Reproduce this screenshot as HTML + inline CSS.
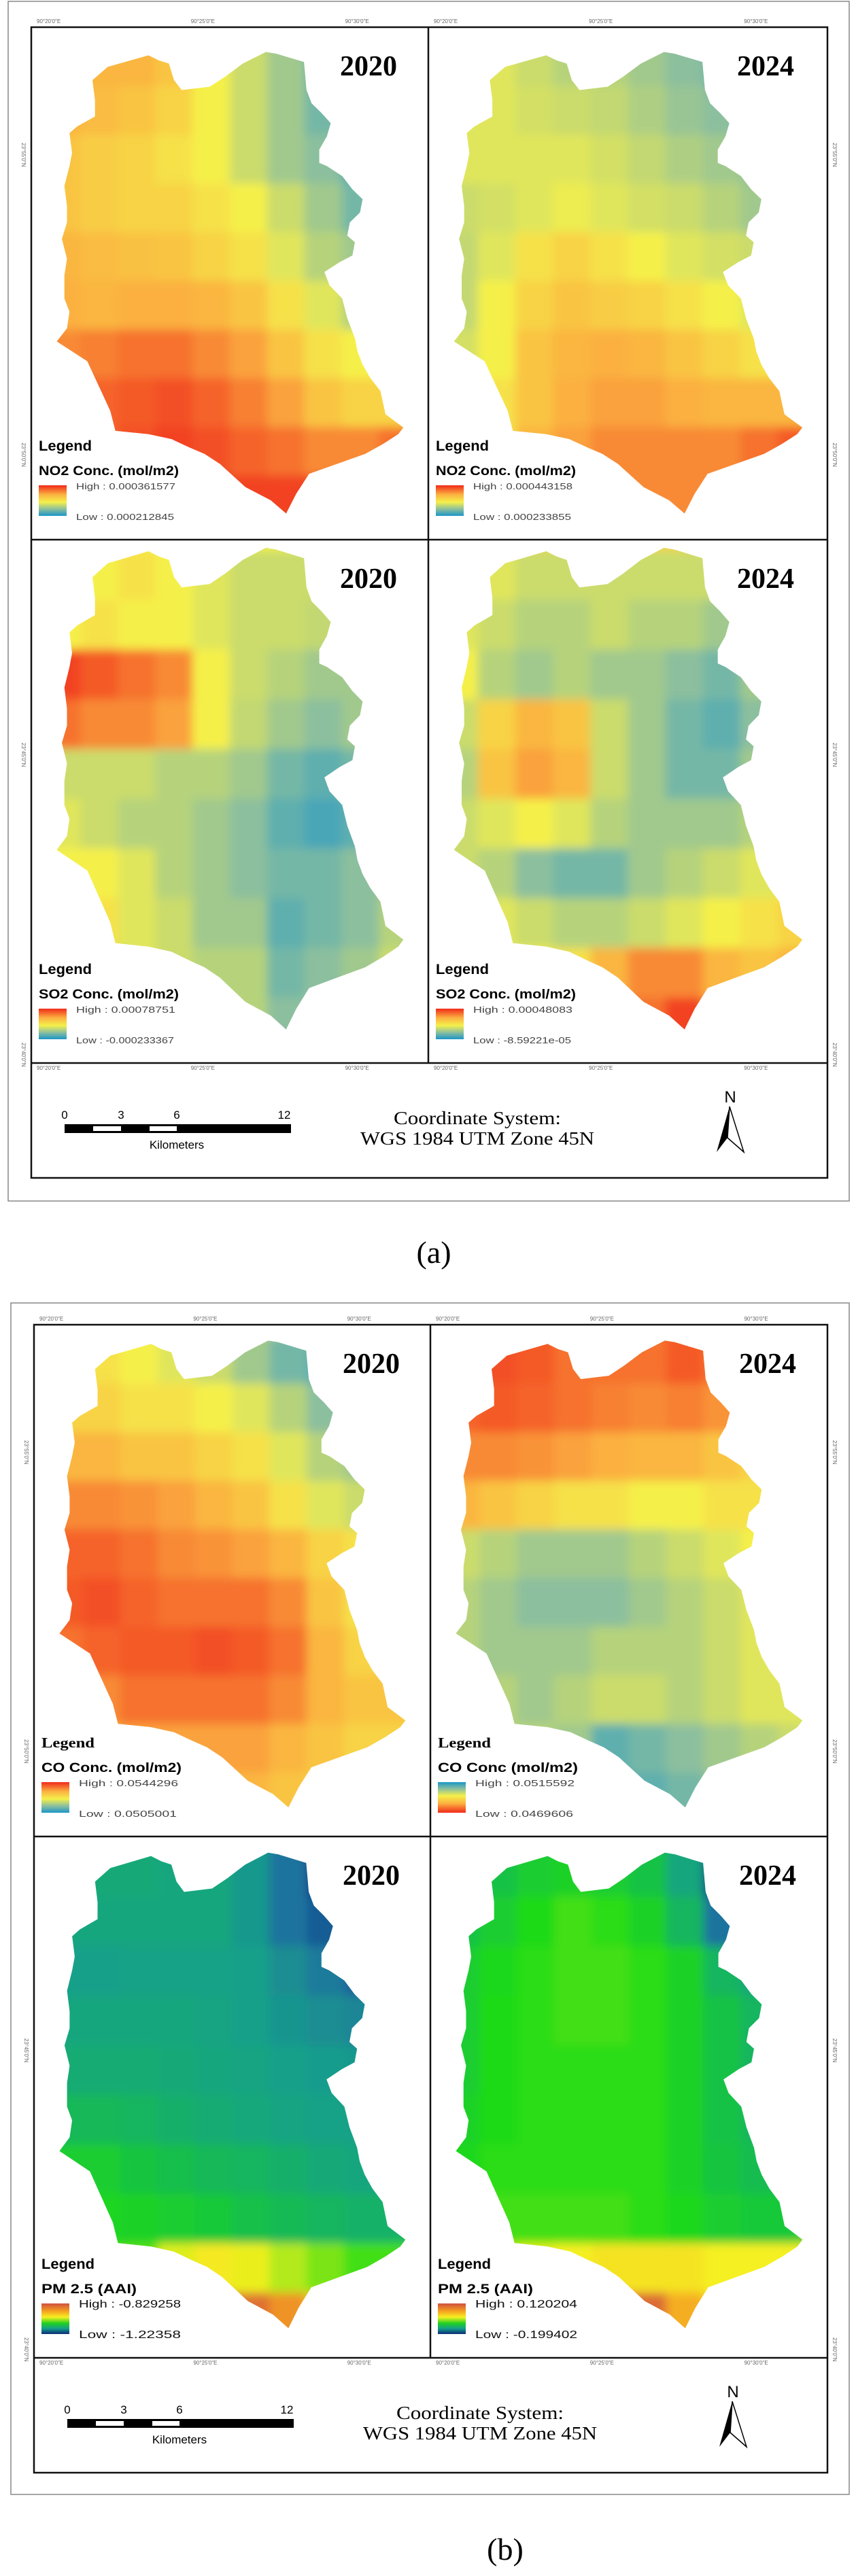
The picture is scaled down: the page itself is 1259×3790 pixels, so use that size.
<!DOCTYPE html>
<html><head><meta charset="utf-8"><style>
html,body{margin:0;padding:0;background:#fff;}
svg{display:block;}
</style></head>
<body>
<svg id="fig" width="1259" height="3790" viewBox="0 0 1259 3790" xmlns="http://www.w3.org/2000/svg">
<defs>
<filter id="soft" x="-5%" y="-5%" width="110%" height="110%"><feGaussianBlur stdDeviation="7"/></filter>
<linearGradient id="rampRYB" x1="0" y1="0" x2="0" y2="1"><stop offset="0" stop-color="#f02a1a"/><stop offset="0.3" stop-color="#fbb040"/><stop offset="0.55" stop-color="#f5f04a"/><stop offset="0.78" stop-color="#8cbf9e"/><stop offset="1" stop-color="#1a96c8"/></linearGradient>
<linearGradient id="rampBYR" x1="0" y1="1" x2="0" y2="0"><stop offset="0" stop-color="#f02a1a"/><stop offset="0.3" stop-color="#fbb040"/><stop offset="0.55" stop-color="#f5f04a"/><stop offset="0.78" stop-color="#8cbf9e"/><stop offset="1" stop-color="#1a96c8"/></linearGradient>
<linearGradient id="rampPM" x1="0" y1="0" x2="0" y2="1"><stop offset="0" stop-color="#d05040"/><stop offset="0.25" stop-color="#f5a020"/><stop offset="0.45" stop-color="#f5f020"/><stop offset="0.65" stop-color="#20d020"/><stop offset="0.82" stop-color="#14a08a"/><stop offset="1" stop-color="#0a2a78"/></linearGradient>
</defs>
<g id="layer"></g>
</svg>
<script>
// ---- data grids (10 columns x 10 rows, 0 = low, 1 = high) ----
const no2_2020 = [
[.7,.7,.7,.65,.5,.4,.3,.2,.1,.1],[.7,.68,.65,.6,.5,.4,.3,.2,.1,.1],[.65,.62,.6,.55,.5,.4,.3,.25,.15,.15],
[.65,.62,.6,.6,.55,.5,.4,.3,.2,.2],[.7,.68,.66,.65,.6,.55,.45,.35,.3,.3],[.72,.7,.72,.72,.7,.65,.55,.45,.35,.35],
[.8,.82,.85,.85,.8,.75,.65,.55,.5,.5],[.85,.88,.9,.92,.88,.82,.75,.65,.6,.6],[.85,.88,.92,.95,.92,.88,.85,.8,.8,.85],
[.9,.9,.95,.95,.95,.95,.95,.95,.95,.95]];
const no2_2024 = [
[.45,.45,.4,.35,.35,.3,.25,.2,.15,.15],[.45,.45,.42,.4,.38,.33,.28,.25,.2,.2],[.45,.45,.45,.45,.42,.38,.33,.3,.28,.28],
[.4,.42,.45,.48,.45,.42,.4,.35,.3,.3],[.38,.45,.55,.6,.55,.5,.45,.42,.4,.4],[.38,.5,.6,.65,.62,.6,.55,.5,.45,.45],
[.42,.5,.65,.7,.72,.7,.65,.6,.55,.55],[.45,.55,.65,.72,.75,.75,.72,.7,.7,.7],[.5,.55,.7,.75,.8,.8,.8,.8,.85,.9],
[.6,.6,.75,.8,.8,.8,.8,.8,.85,.9]];
const so2_2020 = [
[.5,.5,.55,.5,.45,.4,.4,.4,.4,.4],[.5,.55,.5,.5,.45,.4,.4,.38,.35,.35],[.95,.9,.85,.8,.5,.4,.35,.3,.3,.3],
[.85,.8,.8,.75,.5,.38,.3,.25,.3,.3],[.4,.4,.4,.35,.35,.3,.2,.15,.2,.2],[.45,.4,.35,.35,.3,.25,.15,.1,.15,.15],
[.5,.5,.45,.35,.3,.25,.2,.2,.25,.3],[.5,.55,.45,.4,.3,.3,.15,.2,.25,.35],[.5,.55,.45,.4,.35,.35,.2,.25,.3,.4],
[.5,.5,.45,.45,.4,.35,.25,.3,.35,.4]];
const so2_2024 = [
[.6,.45,.4,.4,.4,.4,.4,.4,.4,.4],[.45,.4,.35,.35,.4,.35,.35,.3,.35,.4],[.5,.35,.3,.35,.3,.3,.25,.2,.3,.35],
[.4,.6,.7,.65,.4,.3,.2,.15,.25,.3],[.35,.65,.75,.7,.4,.3,.2,.2,.3,.35],[.4,.45,.5,.45,.35,.3,.3,.3,.35,.4],
[.4,.35,.25,.2,.2,.3,.35,.4,.45,.5],[.45,.45,.4,.35,.35,.4,.45,.5,.55,.6],[.5,.5,.5,.55,.7,.8,.8,.7,.65,.7],
[.5,.5,.55,.6,.75,.85,.95,.8,.7,.7]];
const co_2020 = [
[.55,.55,.5,.45,.4,.3,.2,.15,.15,.15],[.6,.6,.55,.55,.5,.45,.35,.25,.2,.2],[.7,.7,.65,.65,.6,.55,.45,.35,.3,.3],
[.8,.8,.78,.75,.7,.65,.55,.45,.4,.4],[.88,.88,.85,.8,.78,.75,.7,.6,.55,.55],[.9,.92,.88,.85,.85,.85,.8,.65,.55,.55],
[.85,.88,.9,.9,.92,.9,.85,.7,.6,.6],[.75,.8,.85,.85,.85,.85,.8,.7,.65,.65],[.7,.72,.75,.75,.75,.75,.7,.65,.6,.6],
[.7,.7,.7,.7,.7,.7,.65,.6,.55,.55]];
const co_2024 = [
[.9,.92,.9,.85,.85,.85,.9,.85,.8,.8],[.88,.9,.88,.85,.82,.8,.82,.78,.7,.7],[.8,.8,.78,.75,.72,.7,.7,.65,.6,.6],
[.7,.65,.6,.55,.55,.5,.5,.55,.55,.5],[.4,.35,.3,.3,.3,.35,.4,.45,.5,.45],[.35,.3,.25,.25,.25,.3,.35,.4,.45,.45],
[.35,.3,.3,.3,.35,.35,.35,.4,.45,.45],[.4,.35,.3,.35,.4,.4,.35,.4,.45,.45],[.4,.35,.35,.3,.15,.2,.25,.3,.35,.4],
[.4,.35,.35,.25,.1,.15,.2,.25,.3,.4]];
const pm_2020 = [
[.32,.32,.32,.3,.3,.25,.15,.05,.05,.05],[.3,.3,.3,.3,.3,.25,.15,.1,.05,.05],[.27,.27,.28,.28,.28,.27,.22,.17,.12,.12],
[.3,.3,.3,.3,.29,.27,.24,.22,.2,.2],[.33,.33,.33,.32,.3,.29,.27,.26,.25,.25],[.4,.4,.38,.35,.33,.31,.29,.28,.28,.28],
[.5,.5,.46,.43,.4,.38,.35,.32,.3,.3],[.55,.54,.52,.5,.48,.44,.41,.38,.36,.36],[.6,.6,.62,.74,.77,.75,.7,.65,.6,.6],
[.7,.7,.75,.82,.9,.95,.9,.8,.75,.75]];
const pm_2024 = [
[.4,.45,.5,.52,.5,.45,.3,.05,.05,.1],[.45,.5,.56,.6,.58,.52,.38,.15,.15,.2],[.5,.55,.58,.6,.6,.58,.52,.38,.32,.32],
[.5,.56,.58,.6,.6,.58,.52,.45,.38,.38],[.5,.56,.58,.58,.58,.58,.52,.45,.38,.38],[.52,.56,.58,.58,.58,.58,.52,.45,.4,.4],
[.55,.58,.58,.58,.58,.58,.52,.46,.42,.42],[.6,.6,.6,.6,.6,.58,.55,.5,.48,.48],[.68,.7,.75,.76,.78,.78,.78,.76,.76,.76],
[.72,.74,.8,.86,.92,.96,.86,.8,.78,.78]];

const panelTitles = ["NO2 Conc. (mol/m2)","NO2 Conc. (mol/m2)","SO2 Conc. (mol/m2)","SO2 Conc. (mol/m2)","CO Conc. (mol/m2)","CO Conc (mol/m2)","PM 2.5 (AAI)","PM 2.5 (AAI)"];
const panelYears = ["2020","2024","2020","2024","2020","2024","2020","2024"];
const highLabels = ["High : 0.000361577","High : 0.000443158","High : 0.00078751","High : 0.00048083","High : 0.0544296","High : 0.0515592","High : -0.829258","High : 0.120204"];
const lowLabels = ["Low : 0.000212845","Low : 0.000233855","Low : -0.000233367","Low : -8.59221e-05","Low : 0.0505001","Low : 0.0469606","Low : -1.22358","Low : -0.199402"];

// outline of the district (zoom-space trace; geometry only)
const outline=[[240,160],[300,120],[460,85],[500,100],[540,110],[560,160],[590,190],[700,180],[760,150],[830,110],[920,75],[960,80],[1070,105],[1080,190],[1100,230],[1140,260],[1175,290],[1160,330],[1130,370],[1130,410],[1160,420],[1220,450],[1260,490],[1300,520],[1290,560],[1250,590],[1240,630],[1270,650],[1260,690],[1210,710],[1150,740],[1170,780],[1220,820],[1240,880],[1270,940],[1280,980],[1300,1020],[1330,1060],[1370,1100],[1390,1170],[1460,1210],[1440,1230],[1380,1260],[1310,1290],[1200,1320],[1090,1350],[1040,1410],[1000,1470],[940,1430],[840,1390],[740,1320],[680,1290],[620,1270],[550,1245],[460,1230],[330,1220],[310,1160],[280,1110],[250,1060],[220,1010],[160,980],[100,950],[140,910],[150,860],[130,820],[130,750],[140,700],[120,640],[140,590],[140,540],[130,480],[150,420],[160,380],[150,320],[180,300],[250,270],[250,220]];

const NS="http://www.w3.org/2000/svg";
const layer=document.getElementById('layer');
function el(tag,attrs,parent,text){const e=document.createElementNS(NS,tag);for(const k in attrs)e.setAttribute(k,attrs[k]);if(text!==undefined)e.textContent=text;(parent||layer).appendChild(e);return e;}
function lerp(a,b,t){return a+(b-a)*t;}
function hex(h){return [parseInt(h.slice(1,3),16),parseInt(h.slice(3,5),16),parseInt(h.slice(5,7),16)];}
function cmap(stops,v){v=Math.max(0,Math.min(1,v));for(let i=1;i<stops.length;i++){if(v<=stops[i][0]){const t=(v-stops[i-1][0])/(stops[i][0]-stops[i-1][0]);const a=hex(stops[i-1][1]),b=hex(stops[i][1]);return `rgb(${Math.round(lerp(a[0],b[0],t))},${Math.round(lerp(a[1],b[1],t))},${Math.round(lerp(a[2],b[2],t))})`;}}return stops[stops.length-1][1];}
const RYB=[[0,'#1a96c8'],[0.25,'#8cbf9e'],[0.5,'#f5f04a'],[0.72,'#fbb040'],[1,'#f02a1a']];
const PMC=[[0,'#0a2a78'],[0.14,'#1f6fa0'],[0.27,'#17a08a'],[0.44,'#14c048'],[0.57,'#20dc14'],[0.76,'#f5f020'],[0.88,'#f5a020'],[1,'#d05040']];

const panels=[
 {x:46,y:40,w:584,h:754,grid:no2_2020,cm:RYB,ramp:'rampRYB',a:0,b:1},
 {x:630,y:40,w:587,h:754,grid:no2_2024,cm:RYB,ramp:'rampRYB',a:0,b:1},
 {x:46,y:794,w:584,h:770,grid:so2_2020,cm:RYB,ramp:'rampRYB',a:-0.034,b:1.022},
 {x:630,y:794,w:587,h:770,grid:so2_2024,cm:RYB,ramp:'rampRYB',a:-0.034,b:1.022},
 {x:50,y:1949,w:583,h:753,grid:co_2020,cm:RYB,ramp:'rampRYB',a:-0.018,b:1.013},
 {x:633,y:1949,w:584,h:753,grid:co_2024,cm:RYB,ramp:'rampBYR',a:-0.018,b:1.013},
 {x:50,y:2702,w:583,h:767,grid:pm_2020,cm:PMC,ramp:'rampPM',a:-0.018,b:1.013},
 {x:633,y:2702,w:584,h:767,grid:pm_2024,cm:PMC,ramp:'rampPM',a:-0.018,b:1.013}
];

panels.forEach((p,i)=>{
  const g=el('g',{});
  
  
  const cid='clip'+i;
  const cp=el('clipPath',{id:cid},g);
  const pts=outline.map(([zx,zy])=>{const u=zx/1558,v=p.a+p.b*(zy/1549);return (p.x+u*p.w).toFixed(1)+','+(p.y+v*p.h).toFixed(1);}).join(' ');
  el('polygon',{points:pts},cp);
  const clipped=el('g',{'clip-path':`url(#${cid})`},g);
  
  
  const blur=el('g',{filter:'url(#soft)'},clipped);
  const rows=p.grid.length, cols=p.grid[0].length;
  const gx0=p.x+0.03*p.w, gx1=p.x+0.97*p.w, gy0=p.y+0.02*p.h, gy1=p.y+0.97*p.h;
  const xs=c=>gx0+(gx1-gx0)*c/cols, ys=r=>gy0+(gy1-gy0)*r/rows;
  el('rect',{x:p.x,y:p.y,width:p.w,height:p.h,fill:cmap(p.cm,p.grid[0][0])},blur);
  for(let r=0;r<rows;r++)for(let c=0;c<cols;c++){
    const cell=el('rect',{x:xs(c),y:ys(r),width:xs(c+1)-xs(c)+0.5,height:ys(r+1)-ys(r)+0.5,fill:cmap(p.cm,p.grid[r][c])},blur);
    
    
  }
  const yr=el('text',{x:p.x+454,y:p.y+71,'font-family':'Liberation Serif, serif','font-weight':'bold','font-size':42,textLength:84,lengthAdjust:'spacingAndGlyphs',fill:'#000'},g,panelYears[i]);
  
  
  const bot=p.y+p.h;
  const lg=el('text',{x:p.x+11,y:bot-131,'font-family':(i==4||i==5)?'Liberation Serif, serif':'Liberation Sans, sans-serif','font-weight':'bold','font-size':21,textLength:78,lengthAdjust:'spacingAndGlyphs'},g,'Legend');
  
  
  const tt=el('text',{x:p.x+11,y:bot-95,'font-family':'Liberation Sans, sans-serif','font-weight':'bold','font-size':19,textLength:i>=6?140:206,lengthAdjust:'spacingAndGlyphs'},g,panelTitles[i]);
  
  
  const rp=el('rect',{x:p.x+11,y:bot-80,width:41,height:45,fill:`url(#${p.ramp})`},g);
  
  
  const pmStyle=i>=6;
  const hi=el('text',{x:p.x+66,y:bot-74,'font-family':'Liberation Sans, sans-serif','font-size':pmStyle?16:13,fill:pmStyle?'#111':'#444',textLength:pmStyle?150:146,lengthAdjust:'spacingAndGlyphs'},g,highLabels[i]);
  
  
  const lo=el('text',{x:p.x+66,y:bot-29,'font-family':'Liberation Sans, sans-serif','font-size':pmStyle?16:13,fill:pmStyle?'#111':'#444',textLength:pmStyle?150:144,lengthAdjust:'spacingAndGlyphs'},g,lowLabels[i]);
  
  
});

const figs=[
 {ox:12,oy:2,ow:1237,oh:1765,ix:46,iy:40,ix2:1217,iy2:1733,mid:630,hdiv:794,mbot:1564,dy:0,dx:0,cap:'(a)',capx:638,capy:1858},
 {ox:16,oy:1917,ow:1233,oh:1753,ix:50,iy:1949,ix2:1217,iy2:3638,mid:633,hdiv:2702,mbot:3469,dy:1905,dx:4,cap:'(b)',capx:743,capy:3766}
];
const topTicks=["90°20'0\"E","90°25'0\"E","90°30'0\"E"];
figs.forEach((f,k)=>{
  const g=el('g',{});
  
  
  el('rect',{x:f.ox,y:f.oy,width:f.ow,height:f.oh,fill:'none',stroke:'#888','stroke-width':1.5},g);
  el('rect',{x:f.ix,y:f.iy,width:f.ix2-f.ix,height:f.iy2-f.iy,fill:'none',stroke:'#111','stroke-width':2.5},g);
  el('line',{x1:f.mid,y1:f.iy,x2:f.mid,y2:f.mbot,stroke:'#111','stroke-width':2.5},g);
  el('line',{x1:f.ix,y1:f.hdiv,x2:f.ix2,y2:f.hdiv,stroke:'#111','stroke-width':2.5},g);
  el('line',{x1:f.ix,y1:f.mbot,x2:f.ix2,y2:f.mbot,stroke:'#111','stroke-width':2.5},g);
  [[f.ix,f.mid],[f.mid,f.ix2]].forEach(([a,b])=>{
    [0,0.45,0.9].forEach((t,j)=>{
      el('text',{x:a+8+(b-a-80)*t,y:f.iy-6,'font-family':'Liberation Sans, sans-serif','font-size':8,fill:'#666'},g,topTicks[j]);
      el('text',{x:a+8+(b-a-80)*t,y:f.mbot+10,'font-family':'Liberation Sans, sans-serif','font-size':8,fill:'#666'},g,topTicks[j]);
    });
  });
  ["23°55'0\"N","23°50'0\"N","23°45'0\"N","23°40'0\"N"].forEach((s,j)=>{
    const yy=f.iy+170+j*(f.mbot-f.iy-200)/3;
    el('text',{x:f.ix-14,y:yy,'font-family':'Liberation Sans, sans-serif','font-size':8,fill:'#666',transform:`rotate(90 ${f.ix-14} ${yy})`},g,s);
    el('text',{x:f.ix2+8,y:yy,'font-family':'Liberation Sans, sans-serif','font-size':8,fill:'#666',transform:`rotate(90 ${f.ix2+8} ${yy})`},g,s);
  });
  const sb=el('g',{},g);
  
  
  const X=f.dx, Y=f.dy;
  el('rect',{x:95+X,y:1654+Y,width:333,height:13,fill:'#000'},sb);
  el('rect',{x:137+X,y:1657+Y,width:41,height:7,fill:'#fff'},sb);
  el('rect',{x:220+X,y:1657+Y,width:40,height:7,fill:'#fff'},sb);
  [['0',95],['3',178],['6',260],['12',418]].forEach(([s,xx])=>el('text',{x:xx+X,y:1646+Y,'font-family':'Liberation Sans, sans-serif','font-size':17,'text-anchor':'middle'},sb,s));
  el('text',{x:260+X,y:1690+Y,'font-family':'Liberation Sans, sans-serif','font-size':17,'text-anchor':'middle'},sb,'Kilometers');
  const cs=el('text',{x:702+X,y:1654+Y,'font-family':'Liberation Serif, serif','font-size':27,'text-anchor':'middle',textLength:246,lengthAdjust:'spacingAndGlyphs'},g,'Coordinate System:');
  
  
  const wg=el('text',{x:702+X,y:1684+Y,'font-family':'Liberation Serif, serif','font-size':27,'text-anchor':'middle',textLength:344,lengthAdjust:'spacingAndGlyphs'},g,'WGS 1984 UTM Zone 45N');
  
  
  const na=el('g',{},g);
  
  
  el('text',{x:1074+X,y:1622+Y,'font-family':'Liberation Sans, sans-serif','font-size':24,'text-anchor':'middle'},na,'N');
  el('polygon',{points:`${1073+X},${1628+Y} ${1054+X},${1695+Y} ${1070+X},${1674+Y}`,fill:'#000'},na);
  el('polygon',{points:`${1073+X},${1628+Y} ${1094+X},${1695+Y} ${1070+X},${1674+Y}`,fill:'#fff',stroke:'#000','stroke-width':1.5},na);
  const cap=el('text',{x:f.capx,y:f.capy,'font-family':'Liberation Serif, serif','font-size':46,'text-anchor':'middle'},g,f.cap);
  
  
});
</script>
</body></html>
